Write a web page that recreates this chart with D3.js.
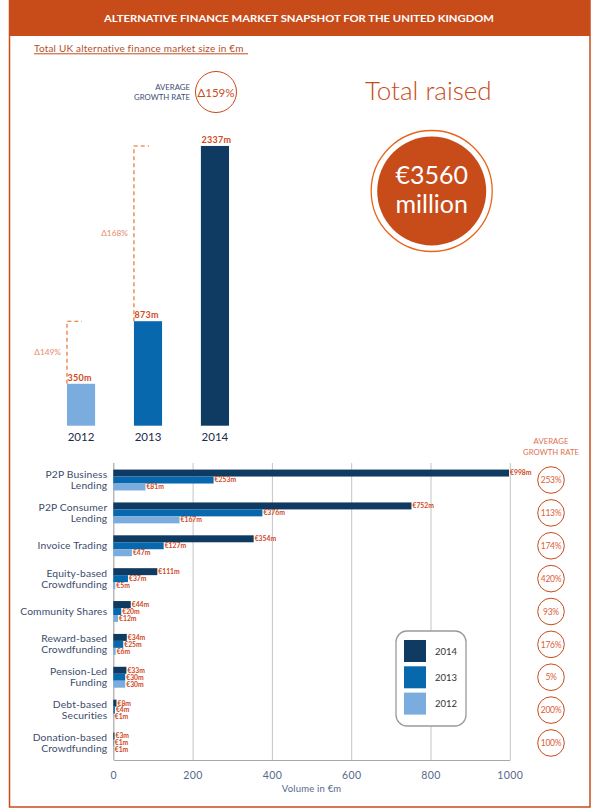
<!DOCTYPE html>
<html>
<head>
<meta charset="utf-8">
<script src="https://cdn.jsdelivr.net/npm/d3@7"></script>
<style>
  html, body { margin: 0; padding: 0; background: #fff; }
  svg { display: block; font-family: Lato, "Open Sans", sans-serif; }
</style>
</head>
<body>
<div id="chart"></div>
<script>
// Market size totals (top chart)
const years = ['2012', '2013', '2014'];
const totals = [350, 873, 2337];
const yearOnYear = ['Δ149%', 'Δ168%'];
const avgGrowthAll = 'Δ159%';

// Per model volumes (bottom chart)
const categories = [
  'P2P Business\nLending',
  'P2P Consumer\nLending',
  'Invoice Trading',
  'Equity-based\nCrowdfunding',
  'Community Shares',
  'Reward-based\nCrowdfunding',
  'Pension-Led\nFunding',
  'Debt-based\nSecurities',
  'Donation-based\nCrowdfunding'
];
const vol2014 = [998, 752, 354, 111, 44, 34, 33, 8, 3];
const vol2013 = [253, 376, 127, 37, 20, 25, 30, 4, 1];
const vol2012 = [81, 167, 47, 5, 12, 6, 30, 1, 1];
const avgGrowth = ['253%', '113%', '174%', '420%', '93%', '176%', '5%', '200%', '100%'];
const xTicks = [0, 200, 400, 600, 800, 1000];
const seriesOrder = ['2014', '2013', '2012'];

(function () {
  'use strict';

  const ORANGE = '#c84b1a';
  const DASH = '#e8641c';
  const LABEL = '#d0491c';
  const YEAR_COLORS = { '2014': '#0f3a62', '2013': '#0868ae', '2012': '#7aadde' };
  const W = 600, H = 809;

  const svg = d3.select('#chart').append('svg')
    .attr('width', W)
    .attr('height', H);

  // --- frame + header ---
  svg.append('rect')
    .attr('x', 9).attr('y', 0).attr('width', 581).attr('height', 36)
    .attr('fill', ORANGE);
  svg.append('rect')
    .attr('x', 9.5).attr('y', -1).attr('width', 580.5).attr('height', 808)
    .attr('fill', 'none').attr('stroke', ORANGE).attr('stroke-width', 1.5);
  svg.append('text')
    .attr('x', 299).attr('y', 21.5)
    .attr('text-anchor', 'middle')
    .attr('fill', '#fff').attr('font-weight', 700).attr('font-size', '9.5px')
    .attr('textLength', 390).attr('lengthAdjust', 'spacingAndGlyphs')
    .text('ALTERNATIVE FINANCE MARKET SNAPSHOT FOR THE UNITED KINGDOM');

  svg.append('text')
    .attr('x', 34).attr('y', 51.5)
    .attr('fill', '#b0502a').attr('font-size', '10px')
    .attr('letter-spacing', '0.2px')
    .text('Total UK alternative finance market size in €m');
  svg.append('line')
    .attr('x1', 34).attr('x2', 248).attr('y1', 53.8).attr('y2', 53.8)
    .attr('stroke', ORANGE).attr('stroke-width', 1);

  // --- average growth badge ---
  const avgLines = ['AVERAGE', 'GROWTH RATE'];
  svg.append('g').selectAll('text')
    .data(avgLines)
    .join('text')
    .attr('x', 190).attr('y', (d, i) => 90 + i * 10)
    .attr('text-anchor', 'end')
    .attr('fill', '#3a4e74').attr('font-size', '7.8px')
    .text(d => d);
  svg.append('circle')
    .attr('cx', 216).attr('cy', 92).attr('r', 20.5)
    .attr('fill', 'none').attr('stroke', ORANGE).attr('stroke-width', 1);
  svg.append('text')
    .attr('x', 216).attr('y', 96.5)
    .attr('text-anchor', 'middle')
    .attr('fill', ORANGE).attr('font-size', '11.5px')
    .text(avgGrowthAll);

  // --- total raised ---
  svg.append('text')
    .attr('x', 365).attr('y', 100)
    .attr('fill', ORANGE).attr('font-size', '26px').attr('font-weight', 300)
    .text('Total raised');
  svg.append('circle')
    .attr('cx', 431.7).attr('cy', 191).attr('r', 60.5)
    .attr('fill', '#fff').attr('stroke', DASH).attr('stroke-width', 1.3);
  svg.append('circle')
    .attr('cx', 431.7).attr('cy', 191).attr('r', 54.5)
    .attr('fill', ORANGE);
  svg.append('g').selectAll('text')
    .data(['€' + d3.sum(totals), 'million'])
    .join('text')
    .attr('x', 431.7).attr('y', (d, i) => 184 + i * 28.7)
    .attr('text-anchor', 'middle')
    .attr('fill', '#fff').attr('font-size', '25px')
    .text(d => d);

  // --- top chart: totals by year ---
  const xTop = d3.scaleBand()
    .domain(years)
    .range([33.5, 262.5])
    .paddingInner(0.58)
    .paddingOuter(0.5);
  const yTop = d3.scaleLinear()
    .domain([0, 2500])
    .range([425.7, 425.7 - 2500 * 0.1197]);

  const top = svg.append('g');

  top.selectAll('rect.total')
    .data(years)
    .join('rect')
    .attr('class', 'total')
    .attr('x', d => xTop(d))
    .attr('width', xTop.bandwidth())
    .attr('y', (d, i) => yTop(totals[i]))
    .attr('height', (d, i) => yTop(0) - yTop(totals[i]))
    .attr('fill', d => YEAR_COLORS[d]);

  top.selectAll('text.val')
    .data(years)
    .join('text')
    .attr('class', 'val')
    .attr('x', d => xTop(d) + 0.5)
    .attr('y', (d, i) => yTop(totals[i]) - 3)
    .attr('fill', LABEL).attr('font-weight', 700).attr('font-size', '9px')
    .attr('letter-spacing', '0.3px')
    .text((d, i) => totals[i] + 'm');

  top.selectAll('text.year')
    .data(years)
    .join('text')
    .attr('class', 'year')
    .attr('x', d => xTop(d) + xTop.bandwidth() / 2)
    .attr('y', 440.7)
    .attr('text-anchor', 'middle')
    .attr('fill', '#1b2b4b').attr('font-size', '11.5px')
    .text(d => d);

  // dashed growth brackets
  const steps = yearOnYear.map((g, i) => ({ label: g, from: i }));
  top.selectAll('path.step')
    .data(steps)
    .join('path')
    .attr('class', 'step')
    .attr('d', s => {
      const x0 = xTop(years[s.from]);
      return 'M' + x0 + ',' + yTop(totals[s.from]) +
        'V' + yTop(totals[s.from + 1]) + 'H' + (x0 + 15);
    })
    .attr('fill', 'none')
    .attr('stroke', DASH).attr('stroke-width', 1.1)
    .attr('stroke-dasharray', '4,3');
  top.selectAll('text.step')
    .data(steps)
    .join('text')
    .attr('class', 'step')
    .attr('x', s => xTop(years[s.from]) - 6)
    .attr('y', s => (yTop(totals[s.from]) + yTop(totals[s.from + 1])) / 2 + 2)
    .attr('text-anchor', 'end')
    .attr('fill', '#e8896a').attr('font-size', '8.3px')
    .text(s => s.label);

  // --- bottom chart: grouped horizontal bars ---
  const plotTop = 463, plotBottom = 760;
  const x = d3.scaleLinear().domain([0, 1000]).range([113.3, 509.8]);
  const y0 = d3.scaleBand()
    .domain(categories)
    .range([plotTop, plotBottom])
    .paddingInner(0.364)
    .paddingOuter(0.2);
  const y1 = d3.scaleBand()
    .domain(seriesOrder)
    .range([0, y0.bandwidth()]);

  const axis = svg.append('g')
    .attr('transform', 'translate(0,' + plotBottom + ')')
    .call(d3.axisBottom(x)
      .tickValues(xTicks)
      .tickFormat(d3.format('d'))
      .tickSize(-(plotBottom - plotTop))
      .tickSizeOuter(0)
      .tickPadding(12));
  axis.select('.domain').attr('stroke', '#a9a9a9').attr('stroke-width', 1.2);
  axis.selectAll('.tick line').attr('stroke', '#c4c4c4').attr('stroke-width', 1);
  axis.selectAll('.tick text')
    .attr('fill', '#56698c')
    .attr('font-size', '10.5px')
    .attr('letter-spacing', '0.4px')
    .attr('font-family', 'Lato, "Open Sans", sans-serif');
  axis.select('.tick line').attr('stroke', '#a9a9a9').attr('stroke-width', 1.2);

  svg.append('text')
    .attr('x', (x(0) + x(1000)) / 2).attr('y', 791.5)
    .attr('text-anchor', 'middle')
    .attr('fill', '#56698c').attr('font-size', '9.5px')
    .attr('letter-spacing', '0.2px')
    .text('Volume in €m');

  const rows = categories.map((c, i) => ({
    cat: c,
    growth: avgGrowth[i],
    vals: [
      { year: '2014', v: vol2014[i] },
      { year: '2013', v: vol2013[i] },
      { year: '2012', v: vol2012[i] }
    ]
  }));

  const group = svg.append('g').selectAll('g.row')
    .data(rows)
    .join('g')
    .attr('class', 'row')
    .attr('transform', d => 'translate(0,' + y0(d.cat) + ')');

  group.selectAll('rect')
    .data(d => d.vals)
    .join('rect')
    .attr('x', x(0))
    .attr('y', d => y1(d.year))
    .attr('width', d => x(d.v) - x(0))
    .attr('height', y1.bandwidth())
    .attr('fill', d => YEAR_COLORS[d.year]);

  group.selectAll('text.val')
    .data(d => d.vals)
    .join('text')
    .attr('class', 'val')
    .attr('x', d => x(d.v) + 1)
    .attr('y', d => y1(d.year) + y1.bandwidth() / 2 + 2.4)
    .attr('fill', LABEL).attr('font-weight', 700).attr('font-size', '6.8px')
    .text(d => '€' + d.v + 'm');

  // category labels, split on newline
  group.append('text')
    .attr('class', 'cat')
    .attr('text-anchor', 'end')
    .attr('fill', '#3c4c6c').attr('font-size', '10.3px')
    .attr('letter-spacing', '0.15px')
    .each(function (d) {
      const lines = d.cat.split('\n');
      const mid = y0.bandwidth() / 2;
      d3.select(this).selectAll('tspan')
        .data(lines)
        .join('tspan')
        .attr('x', 107.3)
        .attr('y', (l, i) => mid + (i - (lines.length - 1) / 2) * 11 + 3.6)
        .text(l => l);
    });

  // growth circles at right
  group.append('circle')
    .attr('cx', 551).attr('cy', y0.bandwidth() / 2).attr('r', 13.3)
    .attr('fill', 'none').attr('stroke', ORANGE).attr('stroke-width', 1);
  group.append('text')
    .attr('x', 551).attr('y', y0.bandwidth() / 2 + 3.2)
    .attr('text-anchor', 'middle')
    .attr('fill', '#d9603a').attr('font-size', '8.5px')
    .attr('letter-spacing', '-0.3px')
    .text(d => d.growth);

  svg.append('g').selectAll('text')
    .data(avgLines)
    .join('text')
    .attr('x', 551).attr('y', (d, i) => 444 + i * 11)
    .attr('text-anchor', 'middle')
    .attr('fill', '#e07050').attr('font-size', '7.8px')
    .text(d => d);

  // legend
  const legend = svg.append('g');
  legend.append('rect')
    .attr('x', 396).attr('y', 631).attr('width', 70).attr('height', 95)
    .attr('rx', 11)
    .attr('fill', '#fff').attr('stroke', '#9a9a9a').attr('stroke-width', 1.3);
  const item = legend.selectAll('g.item')
    .data(seriesOrder)
    .join('g')
    .attr('class', 'item')
    .attr('transform', (d, i) => 'translate(404,' + (640 + i * 26.3) + ')');
  item.append('rect')
    .attr('width', 22).attr('height', 22)
    .attr('fill', d => YEAR_COLORS[d]);
  item.append('text')
    .attr('x', 31).attr('y', 14.5)
    .attr('fill', '#333').attr('font-size', '9.5px')
    .text(d => d);
})();
</script>
</body>
</html>
